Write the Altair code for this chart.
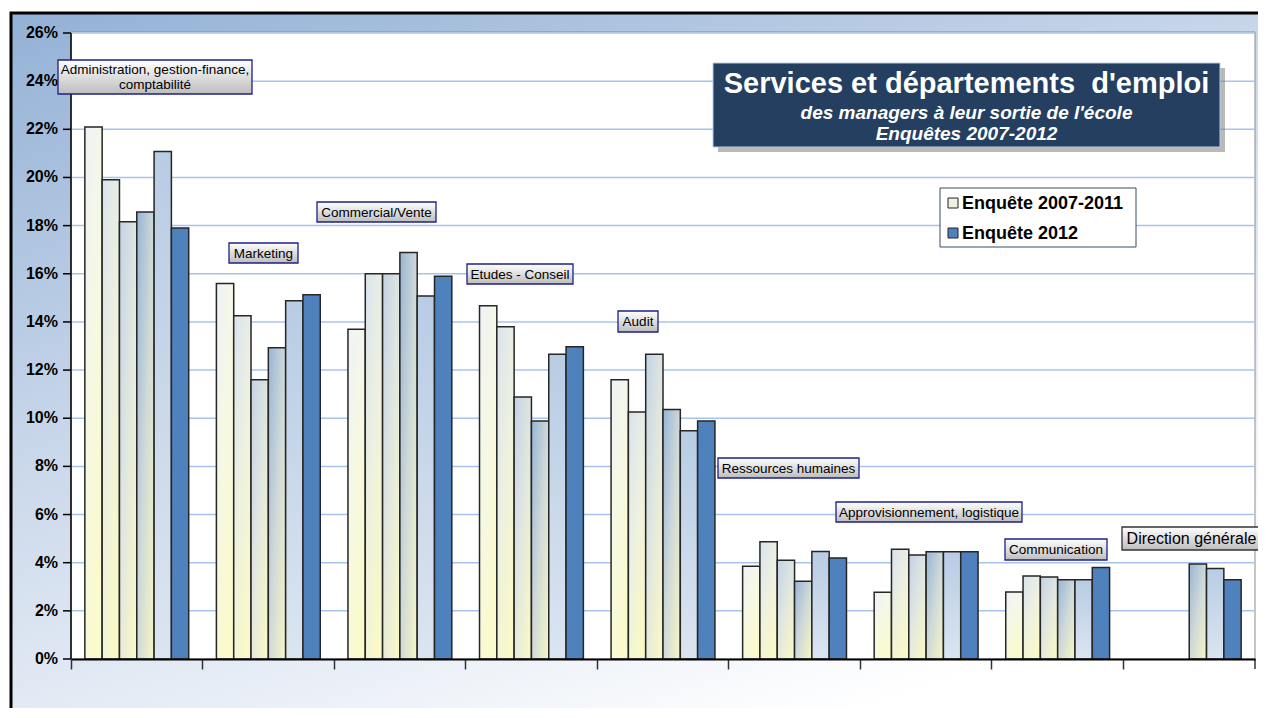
import altair as alt
import pandas as pd

# ---------------- data ----------------
categories = [
    "Administration, gestion-finance, comptabilité",
    "Marketing",
    "Commercial/Vente",
    "Etudes - Conseil",
    "Audit",
    "Ressources humaines",
    "Approvisionnement, logistique",
    "Communication",
    "Direction générale",
]
years = ["2007", "2008", "2009", "2010", "2011", "2012"]

v2007 = [22.1, 15.6, 13.7, 14.67, 11.6, 3.85, 2.77, 2.78, None]
v2008 = [19.9, 14.26, 16.0, 13.8, 10.26, 4.87, 4.56, 3.45, None]
v2009 = [18.16, 11.6, 16.0, 10.88, 12.66, 4.1, 4.32, 3.41, None]
v2010 = [18.57, 12.93, 16.88, 9.89, 10.36, 3.23, 4.45, 3.29, 3.95]
v2011 = [21.08, 14.88, 15.08, 12.66, 9.48, 4.46, 4.45, 3.29, 3.76]
v2012 = [17.9, 15.13, 15.9, 12.97, 9.89, 4.2, 4.45, 3.8, 3.29]

label_lines = [
    ["Administration, gestion-finance,", "comptabilité"],
    ["Marketing"],
    ["Commercial/Vente"],
    ["Etudes - Conseil"],
    ["Audit"],
    ["Ressources humaines"],
    ["Approvisionnement, logistique"],
    ["Communication"],
    ["Direction générale"],
]
legend_labels = ["Enquête 2007-2011", "Enquête 2012"]
title_lines = ["Services et départements \u00a0d'emploi",
               "des managers à leur sortie de l'école",
               "Enquêtes 2007-2012"]
y_ticks = [0, 0.02, 0.04, 0.06, 0.08, 0.10, 0.12, 0.14, 0.16, 0.18, 0.20, 0.22, 0.24, 0.26]

# ---------------- layout / style ----------------
W, H = 1184, 626
FONT = "Liberation Sans"

def grad(stops, x1=0, y1=0, x2=0, y2=1):
    return alt.LinearGradient(
        gradient="linear",
        stops=[alt.GradientStop(color=c, offset=o) for o, c in stops],
        x1=x1, y1=y1, x2=x2, y2=y2,
    )

series_fill = {
    "2007": grad([(0, "#eef2f6"), (0.5, "#f6f8e4"), (1, "#fafacc")], 0, 0, 0.5, 1),
    "2008": grad([(0, "#d9e3ee"), (0.55, "#eef1e0"), (1, "#f8f8c8")], 0, 0, 0.6, 1),
    "2009": grad([(0, "#c2d2e5"), (0.5, "#e0e6e0"), (1, "#f7f7c8")], 0, 0, 0.8, 1),
    "2010": grad([(0, "#97b5d6"), (0.5, "#cfd9d8"), (1, "#f7f7c4")], 0, 0, 1, 1),
    "2011": grad([(0, "#b8cce4"), (1, "#dbe5f1")]),
    "2012": "#4f81bd",
}

# label boxes in plot pixel coords: (x0, y0, x1, y1, fontSize, strokeColor)
label_boxes = [
    (-13, 27, 181, 61, 13.5, "#1f1f8c"),
    (158, 210, 227, 230, 13.5, "#1f1f8c"),
    (246, 169, 365, 189, 13.5, "#1f1f8c"),
    (396, 231, 502, 251, 13.5, "#1f1f8c"),
    (547, 278, 587, 299, 13.5, "#1f1f8c"),
    (647, 425, 788, 445, 13.5, "#1f1f8c"),
    (765, 469, 951, 489, 13.5, "#1f1f8c"),
    (934, 506, 1036, 527, 13.5, "#1f1f8c"),
    (1051, 494, 1190, 517, 16, "#333333"),
]

rows = []
for yr, vals in zip(years, [v2007, v2008, v2009, v2010, v2011, v2012]):
    for c, v in zip(categories, vals):
        if v is not None:
            rows.append({"cat": c, "year": yr, "value": v / 100.0})
df = pd.DataFrame(rows)
one = pd.DataFrame({"k": [0]})
ticks_df = pd.DataFrame({"value": y_ticks})


def rect(x0, y0, x1, y1, **kw):
    return alt.Chart(one).mark_rect(**kw).encode(
        x=alt.value(x0), x2=alt.value(x1), y=alt.value(y0), y2=alt.value(y1)
    )


def text(x, y, t, **kw):
    return alt.Chart(one).mark_text(text=t, font=FONT, **kw).encode(
        x=alt.value(x), y=alt.value(y)
    )


y_enc = alt.Y(
    "value:Q",
    scale=alt.Scale(domain=[0, 0.26], nice=False, zero=True),
    axis=None,
)
x_enc = alt.X(
    "cat:N", sort=categories,
    scale=alt.Scale(domain=categories, paddingInner=0, paddingOuter=0),
    axis=alt.Axis(
        title=None, labels=False, bandPosition=0, grid=False,
        tickSize=10, tickColor="#333", tickWidth=1.5,
        domainColor="#000", domainWidth=2, zindex=1,
    ),
)
xo_enc = alt.XOffset(
    "year:N", sort=years,
    scale=alt.Scale(domain=years, paddingInner=0, paddingOuter=0.8),
)

layers = []
# outer gradient panel with black border
layers.append(rect(-60, -20, W + 40, H + 80,
                   fill=grad([(0, "#93b1d6"), (0.45, "#c9d7ea"), (1, "#ffffff")], 0, 0, 0.6, 1),
                   stroke="#000", strokeWidth=3))
# plot area
layers.append(rect(0, -1, W, H, fill="#ffffff", stroke="#8c8c8c", strokeWidth=1))
# gridlines
layers.append(
    alt.Chart(pd.DataFrame({"value": y_ticks[1:]})).mark_rule(
        color="#a7c4ea", strokeWidth=1.5
    ).encode(y=y_enc, x=alt.value(0), x2=alt.value(W))
)
# bars
for yr in years:
    layers.append(
        alt.Chart(df[df["year"] == yr]).mark_bar(
            fill=series_fill[yr], stroke="#262626", strokeWidth=1.5
        ).encode(x=x_enc, xOffset=xo_enc, y=y_enc)
    )
# y axis drawn as layers (domain, ticks, labels)
layers.append(
    alt.Chart(one).mark_rule(color="#000", strokeWidth=1.5).encode(
        x=alt.value(0), y=alt.value(0), y2=alt.value(H)
    )
)
layers.append(
    alt.Chart(ticks_df).mark_rule(color="#000", strokeWidth=1.5).encode(
        y=y_enc, x=alt.value(-8), x2=alt.value(0)
    )
)
layers.append(
    alt.Chart(ticks_df).mark_text(
        font=FONT, fontSize=16, fontWeight="bold", color="#000",
        align="right", baseline="middle", dx=-13,
    ).encode(y=y_enc, x=alt.value(0), text=alt.Text("value:Q", format=".0%"))
)
# right-end tick on x axis
layers.append(
    alt.Chart(one).mark_rule(color="#333", strokeWidth=1.5).encode(
        x=alt.value(W), y=alt.value(H), y2=alt.value(H + 10)
    )
)

# category label boxes
box_fill = grad([(0, "#ffffff"), (1, "#bdbdbd")])
for lines, (x0, y0, x1, y1, fs, sc) in zip(label_lines, label_boxes):
    layers.append(rect(x0, y0, x1, y1, fill=box_fill, stroke=sc, strokeWidth=1.3))
    cx, cy = (x0 + x1) / 2, (y0 + y1) / 2
    if len(lines) == 1:
        layers.append(text(cx, cy + 0.5, lines[0], fontSize=fs, color="#000",
                           align="center", baseline="middle"))
    else:
        layers.append(text(cx, cy - 7, lines[0], fontSize=fs, color="#000",
                           align="center", baseline="middle"))
        layers.append(text(cx, cy + 7.5, lines[1], fontSize=fs, color="#000",
                           align="center", baseline="middle"))

# title box with shadow
layers.append(rect(647, 35, 1154, 119, fill="#7f7f7f", opacity=0.55))
layers.append(rect(642, 30, 1149, 114, fill="#243f60", stroke="#b8cce4", strokeWidth=1))
tcx = (642 + 1149) / 2
layers.append(text(tcx, 51, title_lines[0], fontSize=29, fontWeight="bold",
                   color="#ffffff", align="center", baseline="middle"))
layers.append(text(tcx, 80, title_lines[1], fontSize=19, fontWeight="bold", fontStyle="italic",
                   color="#ffffff", align="center", baseline="middle"))
layers.append(text(tcx, 101, title_lines[2], fontSize=19, fontWeight="bold", fontStyle="italic",
                   color="#ffffff", align="center", baseline="middle"))

# legend
layers.append(rect(869, 155, 1065, 214, fill="#ffffff", stroke="#3a4a60", strokeWidth=1))
layers.append(rect(877, 165, 887, 175, fill=grad([(0, "#e9eef3"), (1, "#f4f4cc")], 0, 0, 1, 1),
                   stroke="#222", strokeWidth=1))
layers.append(rect(877, 195, 887, 205, fill="#4f81bd", stroke="#222", strokeWidth=1))
layers.append(text(891, 170.5, legend_labels[0], fontSize=18, fontWeight="bold",
                   color="#000", align="left", baseline="middle"))
layers.append(text(891, 200.5, legend_labels[1], fontSize=18, fontWeight="bold",
                   color="#000", align="left", baseline="middle"))

chart = alt.layer(*layers).properties(
    width=W, height=H,
    autosize=alt.AutoSizeParams(type="none"),
    padding={"left": 63, "top": 25, "right": 3, "bottom": 49},
).configure_view(stroke=None)

chart.save("out.html", embed_options={"renderer": "svg", "actions": False})
